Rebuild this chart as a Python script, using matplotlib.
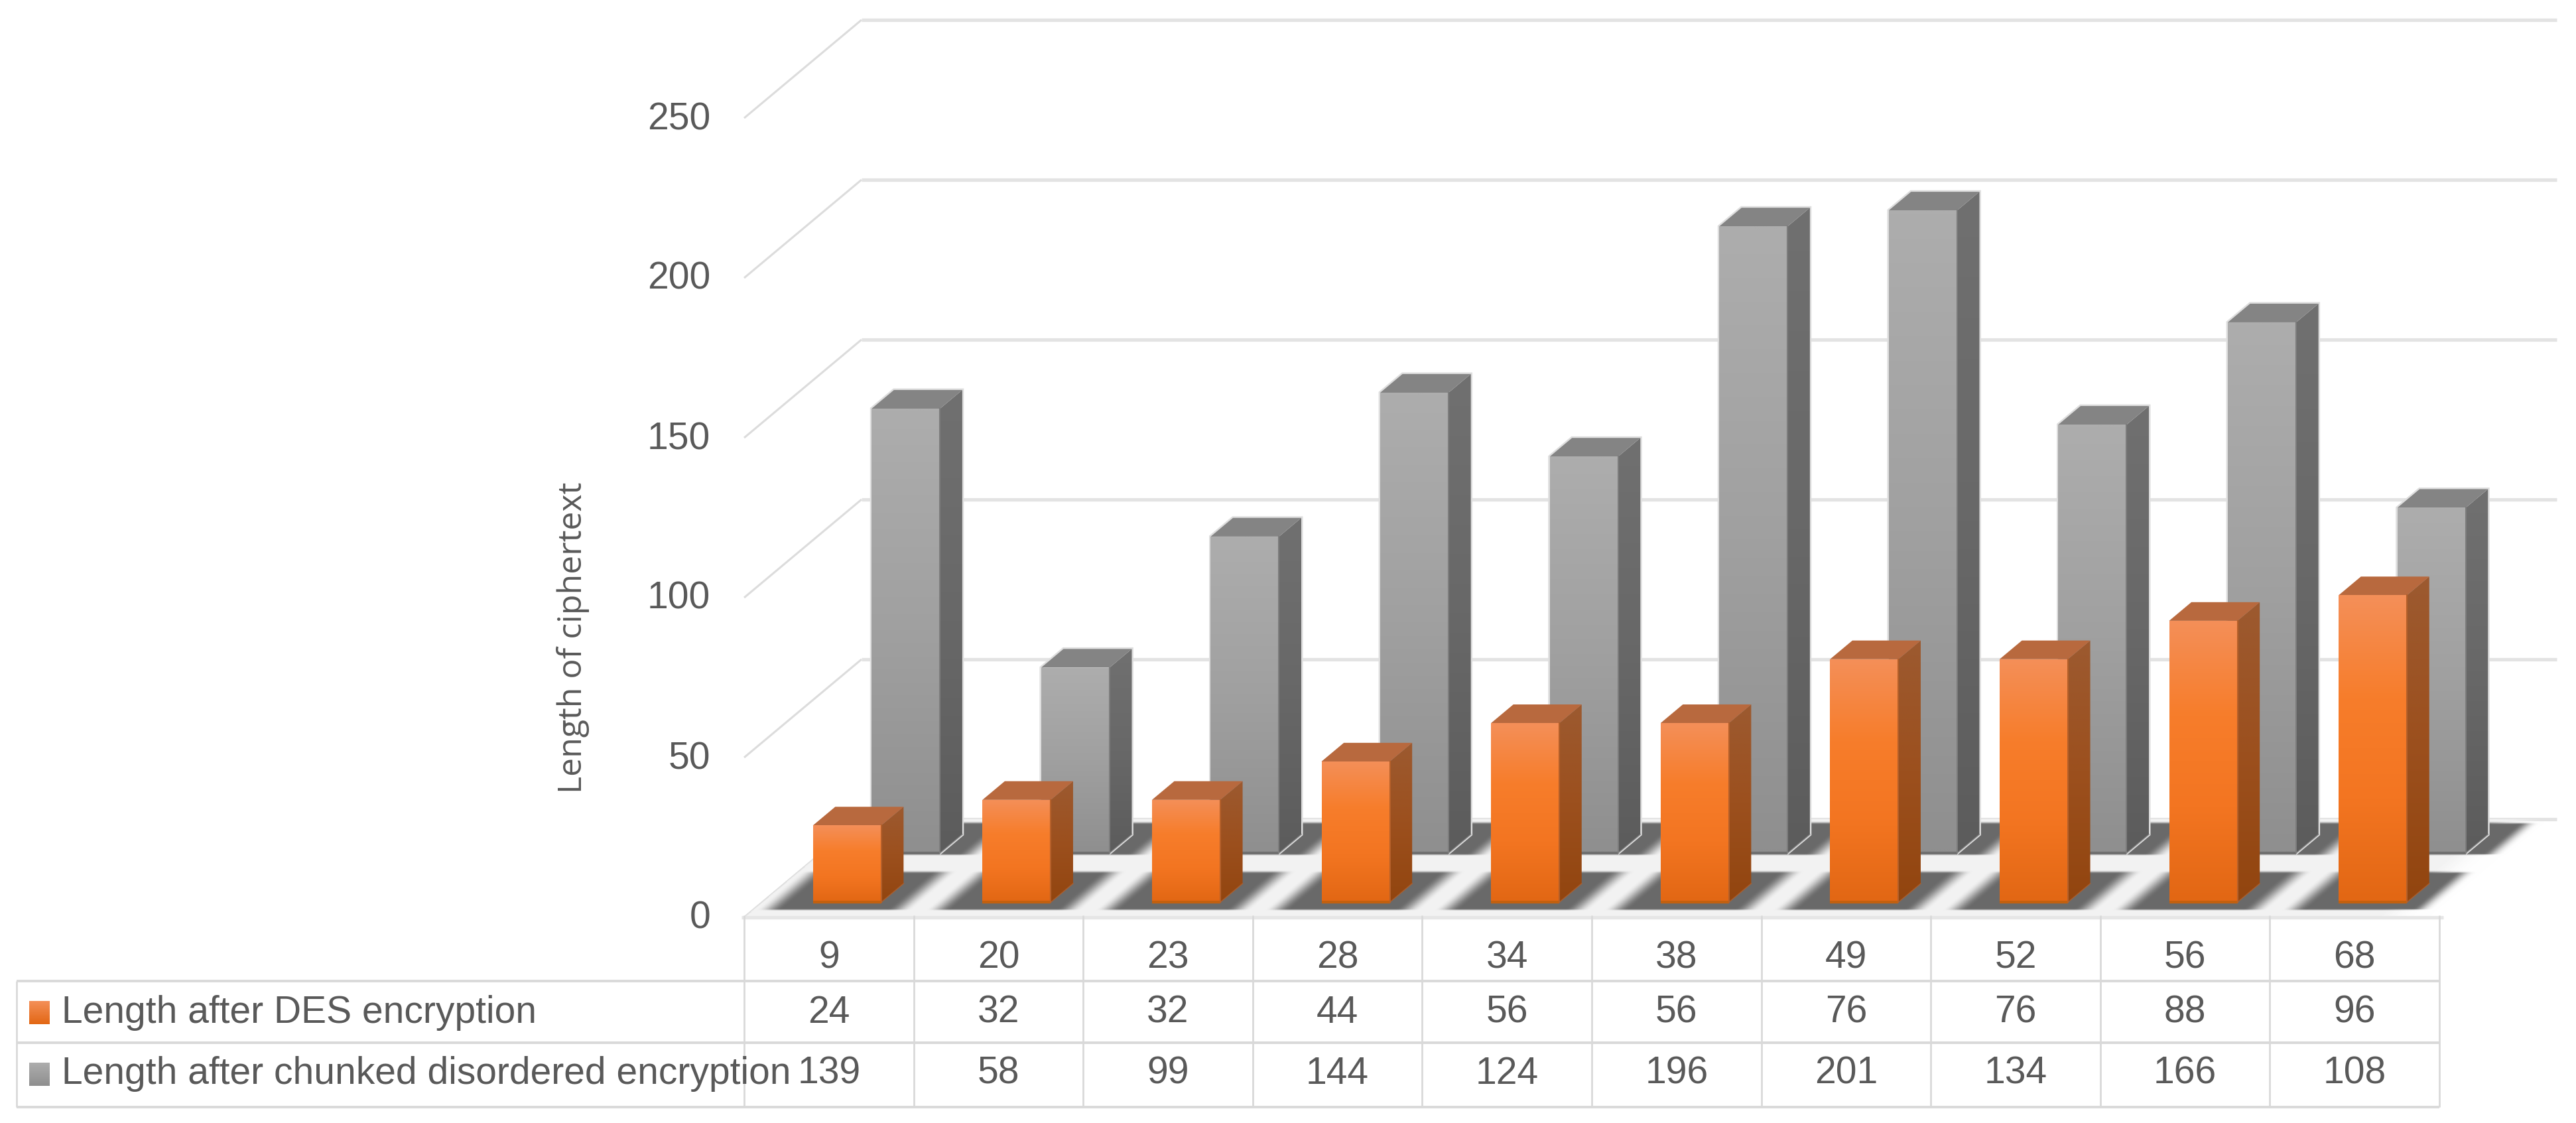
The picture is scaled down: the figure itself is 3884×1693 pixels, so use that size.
import numpy as np
from matplotlib import pyplot as plt
from matplotlib.patches import Polygon

plt.rcParams["font.family"] = ["Liberation Sans Narrow", "Liberation Sans"]

categories = [9, 20, 23, 28, 34, 38, 49, 52, 56, 68]
des_length = [24, 32, 32, 44, 56, 56, 76, 76, 88, 96]
chunked_length = [139, 58, 99, 144, 124, 196, 201, 134, 166, 108]
y_ticks = [0, 50, 100, 150, 200, 250]
series_names = ["Length after DES encryption", "Length after chunked disordered encryption"]
y_title = "Length of ciphertext"

W, H = 3884, 1693
PX_CAT = 255.6  # pixels per category
PX_VAL = 4.82  # pixels per unit of value
X0, Y0 = 1122, 1383  # where category 0 / value 0 sits on the front plane
DX = 177 / PX_CAT  # the oblique shift of the whole depth, in data units
DY = 148 / PX_VAL

TEXT = "#595959"
GRID = "#e3e3e3"
TABLE = "#d9d9d9"

fig = plt.figure(figsize=(W / 100, H / 100), dpi=100)
ax = fig.add_axes([0, 0, 1, 1])
ax.set_xlim(-X0 / PX_CAT, (W - X0) / PX_CAT)
ax.set_ylim((Y0 - H) / PX_VAL, Y0 / PX_VAL)
ax.autoscale(False)
ax.axis("off")


def proj(cat, val, d):
    return cat + d * DX, val + d * DY


def smooth(t):
    t = np.clip(t, 0, 1)
    return t * t * (3 - 2 * t)


def gradient_fill(pts, stops, z):
    # vertical gradient clipped to a polygon
    pts = np.array(pts)
    n = 80
    t = np.linspace(0, 1, n)
    stops = np.array(stops, dtype=float) / 255
    pos = np.linspace(0, 1, len(stops))
    rgb = np.stack([np.interp(t, pos, stops[:, i]) for i in range(3)], axis=1)
    poly = Polygon(pts, closed=True, facecolor="none", edgecolor="none", zorder=z)
    ax.add_patch(poly)
    im = ax.imshow(
        rgb[:, None, :],
        extent=[pts[:, 0].min(), pts[:, 0].max(), pts[:, 1].min(), pts[:, 1].max()],
        aspect="auto",
        origin="upper",
        interpolation="bilinear",
        zorder=z,
    )
    im.set_clip_path(poly)


def draw_bar(cat, val, d0, style, z):
    w = 0.403
    thick = 0.19
    x0 = cat + 0.5 - w / 2
    x1 = x0 + w
    d1 = d0 + thick
    front = [proj(x0, 0, d0), proj(x1, 0, d0), proj(x1, val, d0), proj(x0, val, d0)]
    side = [proj(x1, 0, d0), proj(x1, 0, d1), proj(x1, val, d1), proj(x1, val, d0)]
    top = [proj(x0, val, d0), proj(x1, val, d0), proj(x1, val, d1), proj(x0, val, d1)]
    # thin light halo round the bar, the way the original renders it
    if style["halo"]:
        outline = [front[0], front[3], top[3], top[2], side[1], side[0]]
        ax.add_patch(Polygon(outline, closed=True, facecolor="none", edgecolor="#dedede", lw=3.5, zorder=z))
    gradient_fill(side, style["side"], z + 0.1)
    gradient_fill(front, style["front"], z + 0.2)
    ax.add_patch(Polygon(top, closed=True, facecolor=style["top"], edgecolor="none", zorder=z + 0.1))
    ax.plot(*zip(front[0], front[1]), color=style["base"], lw=3, solid_capstyle="butt", zorder=z + 0.3)
    ax.plot(*zip(front[1], front[2]), color=style["edge"], lw=1.5, zorder=z + 0.3)
    ax.plot(*zip(side[0], side[1]), color=style["edge"], lw=1.2, alpha=0.7, zorder=z + 0.3)


# walls, gridlines
for t in y_ticks:
    x, y = zip(proj(0, t, 0), proj(0, t, 1))
    ax.plot(x, y, color="#dcdcdc", lw=2.2, solid_capstyle="butt", zorder=1)
    x, y = zip(proj(0, t, 1), proj(10, t, 1))
    ax.plot(x, y, color=GRID, lw=3.8, solid_capstyle="butt", zorder=1)

# floor and the blurred shadows under the bars
xs = np.linspace(-0.1, 11.2, 1500)
vs = np.linspace(-2, DY + 2, 320)
gx, gv = np.meshgrid(xs, vs)
depth = gv / DY
cat_plane = gx - depth * DX
inside = (depth >= 0) & (depth <= 1) & (cat_plane >= 0)
floor = inside * (1 - smooth((cat_plane - 9.6) / 0.35))

shade = np.zeros_like(gx)
for d_low, d_high, left, right in [(0.068, 0.446, 0.09, 0.86), (0.628, 0.946, 0.09, 0.887)]:
    band = smooth((depth - d_low) / 0.02) * (1 - smooth((depth - d_high) / 0.035))
    blur = 0.15
    across = np.zeros_like(gx)
    for i in range(len(categories)):
        rel = cat_plane - i
        one = smooth((rel - left + blur / 2) / blur) * (1 - smooth((rel - right + blur / 2) / blur))
        across = np.maximum(across, one)
    shade = np.maximum(shade, band * across)

layer = np.ones(gx.shape + (4,))
grey = 0.95 * floor + 1.0 * (1 - floor)
tone = grey * (1 - shade) + 0.415 * shade
layer[..., 0] = tone
layer[..., 1] = tone
layer[..., 2] = tone
layer[..., 3] = np.maximum(floor, shade)
ax.imshow(
    layer,
    extent=[xs[0], xs[-1], vs[0], vs[-1]],
    origin="lower",
    aspect="auto",
    interpolation="bilinear",
    zorder=2,
)

orange = {
    "front": [(244, 143, 88), (247, 125, 43), (243, 117, 33), (226, 103, 20)],
    "side": [(156, 90, 48), (156, 80, 30), (146, 69, 15)],
    "top": "#b8693e",
    "base": "#c2600f",
    "edge": "#b5602a",
    "halo": False,
}
gray = {
    "front": [(173, 173, 173), (160, 160, 160), (143, 143, 143)],
    "side": [(112, 112, 112), (104, 104, 104), (92, 92, 92)],
    "top": "#848484",
    "base": "#707070",
    "edge": "#7d7d7d",
    "halo": True,
}

for i, v in enumerate(chunked_length):
    draw_bar(i, v, 0.655, gray, 3 + i * 0.5)
for i, v in enumerate(des_length):
    draw_bar(i, v, 0.155, orange, 10 + i * 0.5)

# table, ticks and labels sit on a plain pixel overlay
ov = fig.add_axes([0, 0, 1, 1], facecolor="none")
ov.set_xlim(0, W)
ov.set_ylim(H, 0)
ov.axis("off")

col_x = [X0 + i * PX_CAT for i in range(len(categories) + 1)]
row_y = [1383, 1479, 1572, 1669]
left_x = 25

ov.plot([X0 - 4, col_x[-1] + 6], [row_y[0], row_y[0]], color="#e6e6e6", lw=3.8, solid_capstyle="butt")
for y in row_y[1:]:
    ov.plot([left_x, col_x[-1]], [y, y], color=TABLE, lw=2.8, solid_capstyle="butt")
for x in col_x:
    ov.plot([x, x], [row_y[0] - 3, row_y[-1]], color=TABLE, lw=2, solid_capstyle="butt")
ov.plot([left_x, left_x], [row_y[1], row_y[-1]], color=TABLE, lw=2, solid_capstyle="butt")

fs = 41
for i in range(len(categories)):
    cx = (col_x[i] + col_x[i + 1]) / 2
    ov.text(cx, 1444, str(categories[i]), ha="center", va="center", fontsize=fs, color=TEXT)
    ov.text(cx, 1527, str(des_length[i]), ha="center", va="center", fontsize=fs, color=TEXT)
    ov.text(cx, 1619, str(chunked_length[i]), ha="center", va="center", fontsize=fs, color=TEXT)

for t in y_ticks:
    ov.text(1071, Y0 - t * PX_VAL + 2, str(t), ha="right", va="center", fontsize=fs, color=TEXT)

ov.text(93, 1527, series_names[0], ha="left", va="center", fontsize=fs, color=TEXT)
ov.text(93, 1619, series_names[1], ha="left", va="center", fontsize=fs, color=TEXT)


def legend_key(y, top_c, bottom_c):
    c = np.linspace(top_c, bottom_c, 30)[:, None, :] / 255
    ov.imshow(c, extent=[44, 75, y + 35, y], aspect="auto", origin="upper", zorder=3)


ov.autoscale(False)
legend_key(1509, (244, 143, 88), (226, 103, 20))
legend_key(1602, (173, 173, 173), (143, 143, 143))

ov.text(
    864, 961, y_title, rotation=90, ha="center", va="center",
    fontsize=36, color=TEXT, family="Open Sans",
)

plt.savefig("out.png", dpi=100)
